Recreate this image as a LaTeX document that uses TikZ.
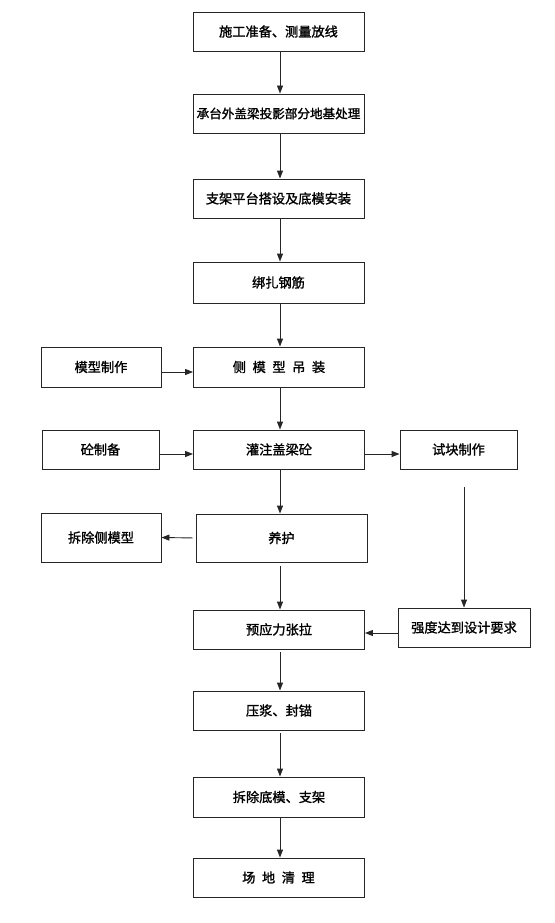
\documentclass[tikz,border=0pt]{standalone}
\usepackage{fontspec}
\setmainfont{Noto Sans CJK SC}[FakeBold=1.4]
\usetikzlibrary{arrows.meta}
\newcommand{\gp}{\kern0.5em}
\begin{document}
\begin{tikzpicture}[x=1pt,y=-1pt,
  box/.style={draw=black!85,line width=0.9pt,inner sep=0pt,font=\fontsize{13.2}{15}\selectfont,minimum height=39pt},
  mainbox/.style={box,minimum width=171pt},
  sidebox/.style={box,minimum width=118pt},
  arr/.style={draw=black!85,line width=0.9pt,-{Triangle[length=8pt,width=6pt]}}]
\useasboundingbox[fill=white] (0,0) rectangle (554,923);
\node[mainbox] (b1) at (278.5,31.5) {施工准备、测量放线};
\node[mainbox,font=\fontsize{12.6}{15}\selectfont] (b2) at (278.5,113.5) {承台外盖梁投影部分地基处理};
\node[mainbox] (b3) at (278.5,198.5) {支架平台搭设及底模安装};
\node[mainbox,minimum height=41pt] (b4) at (278.5,282.5) {绑扎钢筋};
\node[mainbox,minimum height=40pt] (b5) at (279,367) {侧\gp 模\gp 型\gp 吊\gp 装};
\node[mainbox] (b6) at (279,449.5) {灌注盖梁砼};
\node[mainbox,minimum height=48pt] (b7) at (281.5,538) {养护};
\node[mainbox] (b8) at (279,629.5) {预应力张拉};
\node[mainbox] (b9) at (279,710.5) {压浆、封锚};
\node[mainbox,minimum height=40pt] (b10) at (279,797) {拆除底模、支架};
\node[mainbox] (b11) at (278.5,877.5) {场\gp 地\gp 清\gp 理};
\node[sidebox,minimum width=120pt,minimum height=40pt] (mx) at (101,367) {模型制作};
\node[sidebox,minimum width=117pt] (tz) at (100.5,449.5) {砼制备};
\node[sidebox,minimum width=120pt,minimum height=49pt] (cc) at (101,537.5) {拆除侧模型};
\node[sidebox,minimum width=117pt] (sk) at (458.5,449.5) {试块制作};
\node[sidebox,minimum width=132pt] (qd) at (464,627.5) {强度达到设计要求};
\coordinate (c1) at (280,0);
\draw[arr] (b1.south -| c1) -- (b2.north -| c1);
\draw[arr] (b2.south -| c1) -- (b3.north -| c1);
\draw[arr] (b3.south -| c1) -- (b4.north -| c1);
\draw[arr] (b4.south -| c1) -- (b5.north -| c1);
\draw[arr] (b5.south -| c1) -- (b6.north -| c1);
\draw[arr] (b6.south -| c1) -- (b7.north -| c1);
\draw[arr,shorten <=4pt] (b7.south -| c1) -- (b8.north -| c1);
\draw[arr,shorten <=3pt] (b8.south -| c1) -- (b9.north -| c1);
\draw[arr,shorten <=3pt] (b9.south -| c1) -- (b10.north -| c1);
\draw[arr] (b10.south -| c1) -- (b11.north -| c1);
\draw[arr] (mx.east |- 0,372) -- (b5.west |- 0,372);
\draw[arr] (tz.east |- 0,454) -- (b6.west |- 0,454);
\draw[arr] (b6.east |- 0,454) -- (sk.west |- 0,454);
\draw[arr,shorten <=3pt] (b7.west) -- (cc.east);
\draw[arr] (qd.west |- 0,633) -- (b8.east |- 0,633);
\draw[arr,shorten <=18pt] (qd.north |- sk.south) -- (qd.north);
\end{tikzpicture}
\end{document}
